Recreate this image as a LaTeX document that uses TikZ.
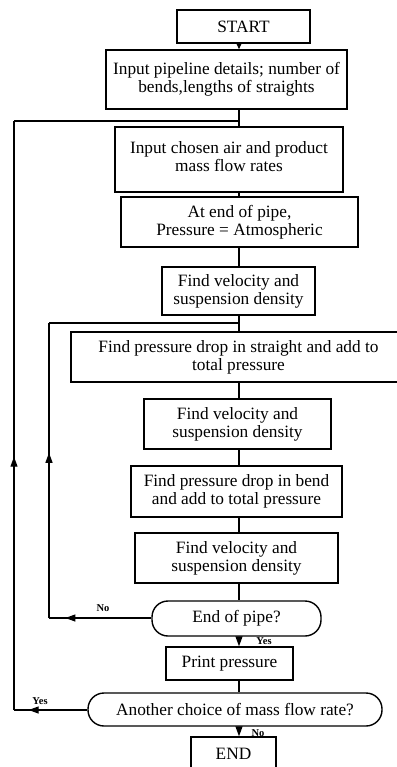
\documentclass[tikz,border=0pt]{standalone}
\usepackage{fontspec}
\setmainfont{Liberation Serif}
\usetikzlibrary{arrows.meta,decorations.markings}
\begin{document}
\begin{tikzpicture}[x=1pt,y=-1pt,line width=1.2pt,
  tip/.tip={Triangle[length=10pt 0,width=7pt 0]},
  boxnode/.style={draw,line width=1.4pt,align=center,inner sep=0pt,
    font=\fontsize{17.3}{18}\selectfont},
  decnode/.style={boxnode,rounded corners=16pt},
  lbl/.style={font=\fontsize{10.5}{11}\selectfont\bfseries,inner sep=0pt},
  arr/.style={-tip},
  midarr/.style={postaction={decorate},decoration={markings,
    mark=at position #1 with {\arrow{tip}}}}]
\useasboundingbox (0,0) rectangle (396,767);
\coordinate (spine) at (239,0);
\node[boxnode,minimum width=133pt,minimum height=33pt] (start) at (243.5,26.5) {START};
\node[boxnode,minimum width=241pt,minimum height=59pt] (b2) at (226.5,79.5) {Input pipeline details; number of\\bends,lengths of straights};
\node[boxnode,minimum width=228pt,minimum height=65pt] (b3) at (229,159.5) {Input chosen air and product\\mass flow rates\strut};
\node[boxnode,minimum width=237pt,minimum height=50pt] (b4) at (239.5,222) {At end of pipe,\\Pressure = Atmospheric};
\node[boxnode,minimum width=153pt,minimum height=48pt] (b5) at (238.5,291) {Find velocity and\\suspension density};
\node[boxnode,minimum width=335pt,minimum height=50pt] (b6) at (238.5,357) {Find pressure drop in straight and add to\\total pressure};
\node[boxnode,minimum width=187pt,minimum height=50pt] (b7) at (237.5,424) {Find velocity and\\suspension density};
\node[boxnode,minimum width=211pt,minimum height=51pt] (b8) at (236.5,491.5) {Find pressure drop in bend\\and add to total pressure};
\node[boxnode,minimum width=203pt,minimum height=50pt] (b9) at (236.5,558) {Find velocity and\\suspension density};
\node[decnode,minimum width=169pt,minimum height=35pt] (d1) at (236.5,618.5) {End of pipe?};
\node[boxnode,minimum width=127pt,minimum height=33pt] (pr) at (229.5,663.5) {Print pressure};
\node[decnode,minimum width=294pt,minimum height=33pt] (d2) at (235,709.5) {Another choice of mass flow rate?};
\node[boxnode,minimum width=85pt,minimum height=33pt] (en) at (233.5,753.5) {END};
% spine connectors
\draw[-{Triangle[length=7pt 0,width=6pt 0]}] (start.south -| spine) -- (b2.north -| spine);
\draw (b2.south -| spine) -- (b3.north -| spine);
\draw (b3.south -| spine) -- (b4.north -| spine);
\draw (b4.south -| spine) -- (b5.north -| spine);
\draw (b5.south -| spine) -- (b6.north -| spine);
\draw (b6.south -| spine) -- (b7.north -| spine);
\draw (b7.south -| spine) -- (b8.north -| spine);
\draw (b8.south -| spine) -- (b9.north -| spine);
\draw (b9.south -| spine) -- (d1.north -| spine);
\draw[arr] (d1.south -| spine) -- (pr.north -| spine);
\draw (pr.south -| spine) -- (d2.north -| spine);
\draw[arr] (d2.south -| spine) -- (en.north -| spine);
% inner loop (No)
\coordinate (nl) at (49,618);
\coordinate (nt) at (49,323);
\coordinate (nj) at (239,323);
\draw[midarr=0.84] (d1.west |- nl) -- (nl);
\draw[midarr=0.56] (nl) -- (nt);
\draw (nt) -- (nj);
% outer loop (Yes)
\coordinate (yl) at (14,710);
\coordinate (yt) at (14,121);
\coordinate (yj) at (239,121);
\draw[midarr=0.8] (d2.west |- yl) -- (yl);
\draw[midarr=0.43] (yl) -- (yt);
\draw (yt) -- (yj);
% labels
\node[lbl] (lno1) at (103,608) {No};
\node[lbl] (lyes1) at (264,641) {Yes};
\node[lbl] (lyes2) at (40,701) {Yes};
\node[lbl] (lno2) at (258,733) {No};
\end{tikzpicture}
\end{document}
